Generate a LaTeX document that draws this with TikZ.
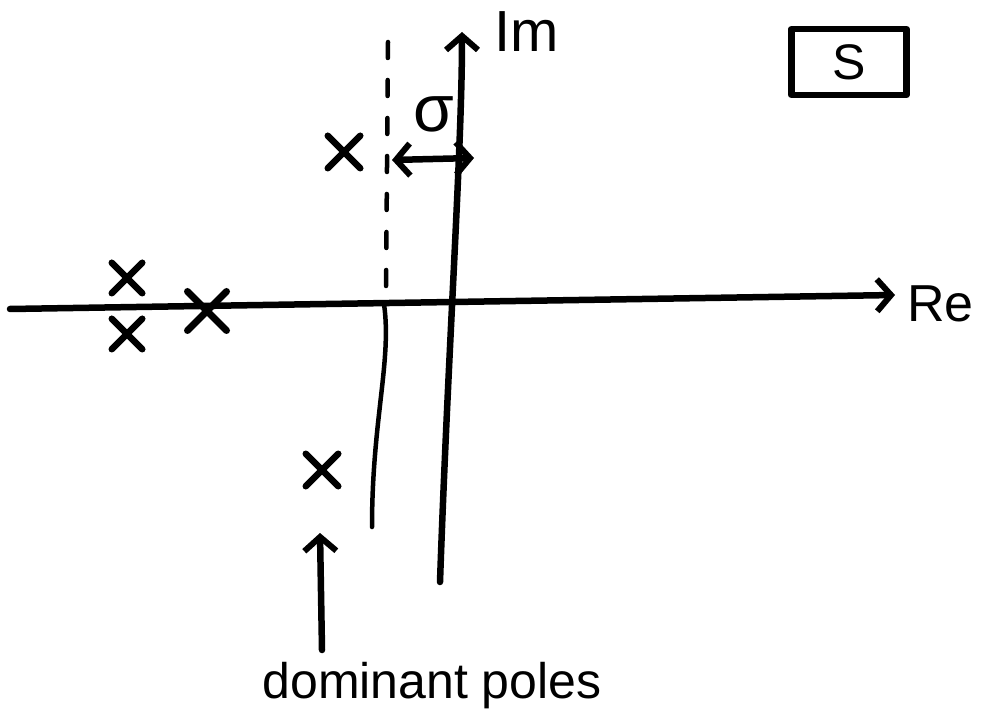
\documentclass[tikz,border=0pt]{standalone}
\usepackage{fontspec}
\setmainfont{Liberation Sans}
\usetikzlibrary{arrows.meta,shapes.misc}
\tikzset{barb/.tip={Straight Barb[length=14pt,width=32pt,line width=6pt]}}
\begin{document}
\begin{tikzpicture}[x=1pt,y=-1pt,
  ink/.style={line width=6.5pt, line cap=round, line join=round},
  thin ink/.style={line width=4.5pt, line cap=round},
  pole/.style={cross out, draw, line width=6.5pt, minimum size=26pt, inner sep=0pt, line cap=round},
  bigpole/.style={pole, minimum size=32pt, line width=7pt},
  hand/.style={font=\fontsize{58}{58}\selectfont, inner sep=0pt},
  label/.style={font=\fontsize{50}{50}\selectfont}
]
\useasboundingbox (0,0) rectangle (983,727);
% real axis
\coordinate (reS) at (10,309);
\coordinate (reE) at (895,295);
\draw[ink, -{barb}] (reS) -- (reE);
\node[hand, font=\fontsize{52}{52}\selectfont, anchor=west] (relabel) at (907,304) {Re};
% imaginary axis
\coordinate (imS) at (440,582);
\coordinate (imE) at (462,32);
\draw[ink, -{barb}] (imS) .. controls (448,350) and (462,150) .. (imE);
\node[hand, anchor=west] (imlabel) at (494,32) {Im};
% sigma boundary
\coordinate (dtop) at (388,42);
\coordinate (dbot) at (386,292);
\draw[thin ink, dash pattern=on 16pt off 22pt] (dtop) -- (dbot);
\coordinate (wtop) at (384,304);
\coordinate (wbot) at (372,527);
\draw[thin ink] (wtop) .. controls (392,360) and (372,420) .. (wbot);
% sigma distance
\coordinate (sl) at (392,160);
\coordinate (sr) at (474,158);
\draw[ink, {barb}-{barb}] (sl) -- (sr);
\node[hand, font=\fontsize{66}{66}\selectfont] (sigma) at (434,114) {σ};
% poles
\node[pole] (pu) at (344,152) {};
\node[pole] (pl) at (322,470) {};
\node[pole, minimum size=24pt] (pa) at (127,278) {};
\node[pole, minimum size=24pt] (pb) at (127,334) {};
\node[bigpole] (pc) at (207,311) {};
% dominant poles annotation
\node[label] (dom) at (432,686) {dominant poles};
\coordinate (ab) at (322,650);
\coordinate (at) at (320,533);
\draw[ink, -{barb}] (ab) -- (at);
% s-plane box
\node[draw, ink, minimum width=115pt, minimum height=66pt, font=\fontsize{50}{50}\selectfont] (sbox) at (849,62) {S};
\end{tikzpicture}
\end{document}
